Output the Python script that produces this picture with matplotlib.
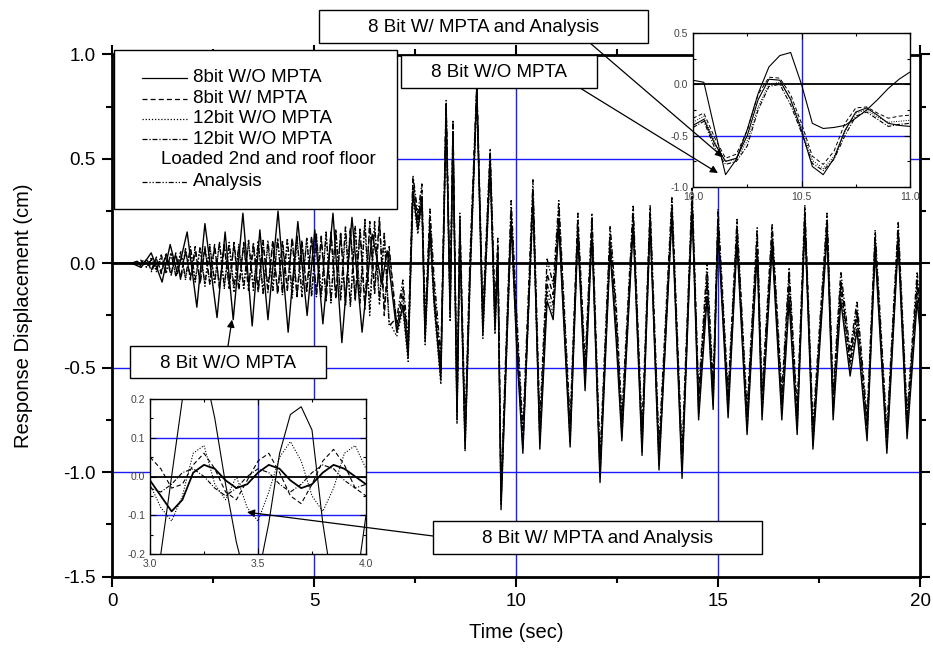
import matplotlib.pyplot as plt
from matplotlib.patches import Rectangle
from matplotlib.lines import Line2D
from matplotlib.ticker import MultipleLocator

plt.rcParams['font.family'] = ['Liberation Sans', 'DejaVu Sans']
plt.rcParams['axes.unicode_minus'] = False

# ---- main record: 8bit W/O MPTA (peaks / troughs)
t_8bit = [0.0, 0.5, 0.72, 0.97, 1.24, 1.44, 1.62, 1.86, 2.10, 2.30, 2.60, 2.80, 3.00, 3.24, 3.47, 3.66,
          3.86, 4.11, 4.36, 4.60, 4.83, 5.02, 5.22, 5.47, 5.69, 5.94, 6.19, 6.44, 6.68, 6.81,
          7.05, 7.20, 7.33, 7.45, 7.57, 7.67, 7.75, 7.87, 7.97, 8.14, 8.27, 8.37, 8.44, 8.54, 8.61,
          8.74, 8.86, 9.03, 9.18, 9.36, 9.48, 9.55, 9.63, 9.88, 10.02, 10.17, 10.42, 10.59, 10.77,
          10.92, 11.06, 11.34, 11.53, 11.71, 11.88, 12.08, 12.33, 12.48, 12.62, 12.90, 13.12, 13.32,
          13.54, 13.86, 14.11, 14.36, 14.52, 14.73, 14.88, 15.0, 15.25, 15.47, 15.72, 15.97, 16.09,
          16.34, 16.58, 16.76, 16.96, 17.15, 17.35, 17.70, 17.85, 18.04, 18.27, 18.44, 18.69, 18.89,
          19.18, 19.46, 19.68, 19.93, 20.0]
d_8bit = [0, 0, -0.02, 0.05, -0.09, 0.09, -0.05, 0.15, -0.21, 0.19, -0.26, 0.15, -0.27, 0.24, -0.30, 0.16,
          -0.27, 0.25, -0.33, 0.20, -0.25, 0.16, -0.29, 0.24, -0.38, 0.22, -0.33, 0.14, -0.10, 0.06,
          -0.33, -0.20, -0.45, 0.34, 0.16, 0.30, -0.37, 0.17, -0.18, -0.56,
          0.72, -0.26, 0.61, -0.75, 0.15, -0.89, -0.08, 0.82, -0.34, 0.48,
          -0.32, 0.02, -1.18, 0.20, -0.42, -0.91, 0.32, -0.89, -0.18, -0.27,
          0.18, -0.88, 0.14, -0.61, 0.14, -1.05, 0.06, -0.37, -0.85, 0.18,
          -0.92, 0.19, -0.99, 0.23, -1.03, 0.27, -0.75, -0.16, -0.70, 0.16,
          -0.74, 0.10, -0.82, 0.05, -0.75, 0.08, -0.75, -0.18, -0.82, 0.19,
          -0.89, 0.14, -0.75, -0.18, -0.54, -0.32, -0.85, 0.06, -0.91, 0.10,
          -0.84, -0.18, -0.32]

# ---- the other four records share one time list
t_grp = [0.0, 0.5, 0.62, 0.74, 0.86, 0.98, 1.10, 1.22, 1.34, 1.46, 1.58, 1.70, 1.82, 1.94, 2.06, 2.18,
         2.30, 2.42, 2.54, 2.66, 2.78, 2.90, 3.02, 3.14, 3.26, 3.38, 3.50, 3.62, 3.74, 3.86, 3.98,
         4.10, 4.22, 4.34, 4.46, 4.58, 4.70, 4.82, 4.94, 5.06, 5.18, 5.30, 5.42, 5.54, 5.66, 5.78,
         5.90, 6.02, 6.14, 6.26, 6.38, 6.50, 6.62, 6.74, 6.86,
         7.05, 7.20, 7.33, 7.45, 7.57, 7.67, 7.75, 7.87, 7.97, 8.14, 8.27, 8.37, 8.44, 8.54, 8.61,
         8.74, 8.86, 9.03, 9.18, 9.36, 9.48, 9.55, 9.63, 9.88, 10.02, 10.17, 10.42, 10.59, 10.77,
         10.92, 11.06, 11.34, 11.53, 11.71, 11.88, 12.08, 12.33, 12.48, 12.62, 12.90, 13.12, 13.32,
         13.54, 13.86, 14.11, 14.36, 14.52, 14.73, 14.88, 15.0, 15.25, 15.47, 15.72, 15.97, 16.09,
         16.34, 16.58, 16.76, 16.96, 17.15, 17.35, 17.70, 17.85, 18.04, 18.27, 18.44, 18.69, 18.89,
         19.18, 19.46, 19.68, 19.93, 20.0]
d_mpta = [0, 0, 0.01, -0.02, 0.02, -0.03, 0.03, -0.05, 0.04, -0.06,
          0.05, -0.08, 0.06, -0.07, 0.08, -0.10, 0.07, -0.09, 0.09, -0.12,
          0.08, -0.10, 0.09, -0.13, 0.10, -0.11, 0.08, -0.14, 0.10, -0.12,
          0.11, -0.15, 0.09, -0.12, 0.12, -0.16, 0.10, -0.13, 0.13, -0.15,
          0.12, -0.18, 0.15, -0.16, 0.14, -0.20, 0.17, -0.17, 0.15, -0.22,
          0.20, -0.12, 0.22, -0.25, 0.08,
          -0.30, -0.12, -0.40, 0.40, 0.20, 0.35, -0.32, 0.22, -0.12, -0.50,
          0.76, -0.20, 0.66, -0.70, 0.20, -0.84, -0.02, 0.85, -0.28, 0.52,
          -0.26, 0.08, -1.12, 0.26, -0.30, -0.85, 0.36, -0.82, -0.05, -0.15,
          0.26, -0.80, 0.20, -0.52, 0.20, -0.98, 0.14, -0.25, -0.78, 0.24,
          -0.85, 0.24, -0.92, 0.28, -0.96, 0.32, -0.66, -0.05, -0.62, 0.22,
          -0.66, 0.18, -0.74, 0.14, -0.66, 0.16, -0.66, -0.06, -0.74, 0.24,
          -0.82, 0.20, -0.66, -0.08, -0.45, -0.22, -0.78, 0.12, -0.84, 0.16,
          -0.76, -0.08, -0.25]
d_12a = [0, 0, -0.01, 0.02, -0.02, 0.03, -0.04, 0.03, -0.05, 0.05,
         -0.06, 0.06, -0.08, 0.07, -0.09, 0.08, -0.11, 0.09, -0.10, 0.10,
         -0.12, 0.09, -0.14, 0.08, -0.12, 0.10, -0.13, 0.11, -0.15, 0.09,
         -0.13, 0.12, -0.14, 0.10, -0.17, 0.11, -0.14, 0.12, -0.16, 0.13,
         -0.15, 0.14, -0.19, 0.16, -0.18, 0.15, -0.21, 0.18, -0.16, 0.19,
         -0.25, 0.18, -0.20, 0.12, -0.28,
         -0.35, -0.22, -0.47, 0.32, 0.14, 0.28, -0.39, 0.15, -0.20, -0.58,
         0.70, -0.28, 0.59, -0.77, 0.13, -0.90, -0.10, 0.80, -0.36, 0.46,
         -0.34, 0.00, -1.16, 0.18, -0.40, -0.89, 0.28, -0.86, -0.14, -0.24,
         0.20, -0.86, 0.16, -0.58, 0.15, -1.02, 0.08, -0.33, -0.83, 0.20,
         -0.90, 0.20, -0.97, 0.24, -1.00, 0.28, -0.72, -0.12, -0.68, 0.18,
         -0.71, 0.12, -0.80, 0.07, -0.72, 0.10, -0.72, -0.14, -0.80, 0.20,
         -0.87, 0.16, -0.72, -0.14, -0.51, -0.29, -0.83, 0.08, -0.89, 0.12,
         -0.81, -0.14, -0.29]
d_12b = [0, 0, 0.01, -0.01, 0.02, -0.04, 0.02, -0.04, 0.05, -0.05,
         0.04, -0.07, 0.07, -0.08, 0.06, -0.09, 0.08, -0.10, 0.08, -0.11,
         0.09, -0.12, 0.10, -0.11, 0.09, -0.13, 0.10, -0.12, 0.11, -0.14,
         0.10, -0.14, 0.11, -0.13, 0.12, -0.15, 0.11, -0.14, 0.12, -0.16,
         0.13, -0.17, 0.14, -0.17, 0.15, -0.19, 0.16, -0.18, 0.17, -0.20,
         0.18, -0.15, 0.20, -0.22, 0.05,
         -0.31, -0.16, -0.42, 0.36, 0.18, 0.32, -0.34, 0.19, -0.15, -0.52,
         0.74, -0.22, 0.63, -0.71, 0.17, -0.85, -0.05, 0.83, -0.30, 0.50,
         -0.28, 0.05, -1.14, 0.23, -0.35, -0.87, 0.30, -0.84, -0.10, -0.20,
         0.22, -0.83, 0.17, -0.55, 0.17, -1.00, 0.10, -0.30, -0.80, 0.21,
         -0.87, 0.22, -0.94, 0.26, -0.98, 0.30, -0.69, -0.09, -0.65, 0.19,
         -0.68, 0.14, -0.77, 0.10, -0.69, 0.12, -0.69, -0.10, -0.77, 0.22,
         -0.84, 0.18, -0.69, -0.11, -0.48, -0.25, -0.80, 0.10, -0.86, 0.14,
         -0.78, -0.11, -0.27]
d_anal = [0, 0, 0.0, 0.01, -0.02, 0.02, -0.03, 0.04, -0.04, 0.05,
          -0.06, 0.05, -0.07, 0.08, -0.08, 0.07, -0.10, 0.08, -0.09, 0.10,
          -0.11, 0.10, -0.12, 0.09, -0.12, 0.11, -0.12, 0.10, -0.14, 0.11,
          -0.13, 0.12, -0.15, 0.12, -0.14, 0.13, -0.16, 0.12, -0.15, 0.14,
          -0.16, 0.15, -0.18, 0.16, -0.17, 0.18, -0.20, 0.17, -0.19, 0.21,
          -0.22, 0.20, -0.18, 0.15, -0.30,
          -0.26, -0.08, -0.36, 0.42, 0.24, 0.38, -0.27, 0.26, -0.06, -0.45,
          0.78, -0.15, 0.68, -0.65, 0.24, -0.78, 0.03, 0.86, -0.23, 0.55,
          -0.21, 0.12, -1.08, 0.30, -0.25, -0.80, 0.40, -0.76, 0.02, -0.10,
          0.30, -0.76, 0.24, -0.48, 0.24, -0.93, 0.18, -0.20, -0.73, 0.28,
          -0.80, 0.28, -0.87, 0.32, -0.91, 0.36, -0.62, 0.00, -0.58, 0.26,
          -0.62, 0.21, -0.70, 0.17, -0.62, 0.19, -0.62, -0.02, -0.70, 0.28,
          -0.78, 0.24, -0.62, -0.04, -0.42, -0.18, -0.74, 0.16, -0.80, 0.20,
          -0.72, -0.04, -0.21]

# ---- upper inset, 10 - 11 s
t_in1 = [10.0, 10.05, 10.1, 10.15, 10.2, 10.25, 10.3, 10.35, 10.4, 10.45, 10.5,
         10.55, 10.6, 10.65, 10.7, 10.75, 10.8, 10.85, 10.9, 10.95, 11.0]
in1_b = [0.04, 0.02, -0.44, -0.88, -0.73, -0.44, -0.09, 0.17, 0.28, 0.31, 0.0,
         -0.38, -0.43, -0.42, -0.40, -0.33, -0.25, -0.15, -0.04, 0.05, 0.12]
in1_a = [-0.40, -0.34, -0.58, -0.75, -0.72, -0.50, -0.15, 0.05, 0.04, -0.15, -0.45,
         -0.80, -0.88, -0.72, -0.45, -0.27, -0.23, -0.30, -0.38, -0.40, -0.41]
in1_g1 = [-0.33, -0.28, -0.52, -0.72, -0.68, -0.45, -0.10, 0.07, 0.06, -0.10, -0.38,
          -0.70, -0.78, -0.65, -0.38, -0.23, -0.22, -0.28, -0.33, -0.31, -0.30]
in1_g2 = [-0.37, -0.31, -0.56, -0.75, -0.73, -0.55, -0.22, 0.0, 0.02, -0.14, -0.42,
          -0.74, -0.82, -0.70, -0.46, -0.28, -0.25, -0.32, -0.37, -0.36, -0.35]
in1_g3 = [-0.42, -0.36, -0.62, -0.78, -0.75, -0.60, -0.25, -0.02, 0.0, -0.20, -0.47,
          -0.77, -0.84, -0.73, -0.50, -0.31, -0.27, -0.34, -0.41, -0.39, -0.38]

# ---- lower inset, 3 - 4 s
t_in2 = [3.0, 3.05, 3.1, 3.15, 3.2, 3.25, 3.3, 3.35, 3.4, 3.45, 3.5,
         3.55, 3.6, 3.65, 3.7, 3.75, 3.8, 3.85, 3.9, 3.95, 4.0]
in2_s = [-0.30, -0.20, 0.0, 0.20, 0.30, 0.28, 0.15, -0.02, -0.17, -0.28, -0.26,
         -0.12, 0.06, 0.16, 0.18, 0.12, -0.12, -0.30, -0.38, -0.30, -0.10]
in2_o1 = [-0.02, -0.08, -0.115, -0.05, 0.06, 0.08, -0.02, -0.06, 0.0, -0.08, -0.115,
          -0.04, 0.05, 0.09, 0.04, -0.05, -0.09, -0.03, 0.06, 0.08, 0.02]
in2_o2 = [-0.01, -0.05, -0.09, -0.06, 0.01, 0.03, 0.02, -0.01, -0.03, -0.02, 0.01,
          0.03, 0.02, -0.01, -0.03, -0.02, 0.01, 0.03, 0.02, 0.0, -0.02]
in2_o3 = [0.05, 0.02, -0.03, -0.02, 0.03, 0.06, 0.02, -0.04, -0.06, -0.01, 0.04,
          0.06, 0.01, -0.05, -0.07, -0.02, 0.04, 0.07, 0.03, -0.03, -0.05]
in2_o4 = [-0.03, -0.04, -0.02, 0.01, 0.02, 0.0, -0.03, -0.05, -0.03, 0.0, 0.02,
          0.01, -0.02, -0.04, -0.02, 0.01, 0.03, 0.02, -0.01, -0.03, -0.02]

legend_labels = ['8bit W/O MPTA', '8bit W/ MPTA', '12bit W/O MPTA', '12bit W/O MPTA',
                 'Loaded 2nd and roof floor', 'Analysis']

W, H = 933, 652
BLUE = '#1a1aff'
FS = 13.5
ls_solid = '-'
ls_dash = (0, (4, 2.5))
ls_dot = (0, (1, 1.5))
ls_dashdot = (0, (4, 1.5, 1, 1.5))
ls_dashdotdot = (0, (4, 1.5, 1, 1.5, 1, 1.5))


def fx(px):
    return px / W


def fy(py):
    return 1 - py / H


fig = plt.figure(figsize=(W / 100, H / 100), dpi=100)

# ---------------- main axes
ax = fig.add_axes([fx(112), fy(576.5), fx(920) - fx(112), fy(54.5) - fy(576.5)])
for x in (5, 10, 15):
    ax.axvline(x, color=BLUE, lw=1, zorder=1)
for y in (0.5, -0.5, -1.0):
    ax.axhline(y, color=BLUE, lw=1, zorder=1)
ax.plot(t_8bit, d_8bit, color='black', lw=1.0, ls=ls_solid, zorder=2)
ax.plot(t_grp, d_mpta, color='black', lw=1.0, ls=ls_dash, zorder=2)
ax.plot(t_grp, d_12a, color='black', lw=1.0, ls=ls_dot, zorder=2)
ax.plot(t_grp, d_12b, color='black', lw=1.0, ls=ls_dashdot, zorder=2)
ax.plot(t_grp, d_anal, color='black', lw=1.0, ls=ls_dashdotdot, zorder=2)
ax.axhline(0, color='black', lw=2, zorder=3)

ax.set_xlim(0, 20)
ax.set_ylim(-1.5, 1.0)
ax.set_xticks([0, 5, 10, 15, 20])
ax.set_yticks([1.0, 0.5, 0.0, -0.5, -1.0, -1.5])
ax.set_yticklabels(['1.0', '0.5', '0.0', '-0.5', '-1.0', '-1.5'])
ax.xaxis.set_minor_locator(MultipleLocator(2.5))
ax.yaxis.set_minor_locator(MultipleLocator(0.25))
ax.tick_params(which='both', direction='out', top=True, right=True, labelsize=13.5, width=1.5)
ax.tick_params(which='major', length=7, pad=5)
ax.tick_params(which='minor', length=4)
for s in ax.spines.values():
    s.set_linewidth(2)
ax.set_xlabel('Time (sec)', fontsize=14.5)
ax.set_ylabel('Response Displacement (cm)', fontsize=14.5)
ax.xaxis.set_label_coords(0.5, -0.09)
ax.yaxis.set_label_coords(-0.098, 0.5)


def style_inset(a):
    a.tick_params(which='both', direction='in', top=True, right=True,
                  labelsize=7.5, labelcolor='#444444', width=0.8)
    a.tick_params(which='major', length=4)
    a.tick_params(which='minor', length=2.5)
    for s in a.spines.values():
        s.set_linewidth(1)


# ---------------- upper inset
ax1 = fig.add_axes([fx(693), fy(187), fx(910) - fx(693), fy(33) - fy(187)], zorder=5)
ax1.axvline(10.5, color=BLUE, lw=1, zorder=1)
ax1.axhline(-0.5, color=BLUE, lw=1, zorder=1)
ax1.axhline(0, color='black', lw=1.3, zorder=1)
ax1.plot(t_in1, in1_b, color='black', lw=0.8, ls=ls_solid)
ax1.plot(t_in1, in1_a, color='black', lw=0.8, ls=ls_solid)
ax1.plot(t_in1, in1_g1, color='black', lw=0.7, ls=ls_dash)
ax1.plot(t_in1, in1_g2, color='black', lw=0.7, ls=ls_dot)
ax1.plot(t_in1, in1_g3, color='black', lw=0.8, ls=ls_dashdot)
ax1.set_xlim(10, 11)
ax1.set_ylim(-1.0, 0.5)
ax1.set_xticks([10.0, 10.5, 11.0])
ax1.set_yticks([0.5, 0.0, -0.5, -1.0])
ax1.set_xticklabels(['10.0', '10.5', '11.0'])
ax1.set_yticklabels(['0.5', '0.0', '-0.5', '-1.0'])
ax1.xaxis.set_minor_locator(MultipleLocator(0.25))
ax1.yaxis.set_minor_locator(MultipleLocator(0.25))
style_inset(ax1)

# ---------------- lower inset
ax2 = fig.add_axes([fx(150), fy(554), fx(366) - fx(150), fy(399) - fy(554)], zorder=5)
ax2.axvline(3.5, color=BLUE, lw=1, zorder=1)
for y in (0.1, -0.1):
    ax2.axhline(y, color=BLUE, lw=1, zorder=1)
ax2.axhline(0, color='black', lw=1.3, zorder=1)
ax2.plot(t_in2, in2_s, color='black', lw=0.8, ls=ls_solid)
ax2.plot(t_in2, in2_o1, color='black', lw=0.8, ls=ls_dot)
ax2.plot(t_in2, in2_o2, color='black', lw=1.3, ls=ls_solid)
ax2.plot(t_in2, in2_o3, color='black', lw=0.8, ls=ls_dash)
ax2.plot(t_in2, in2_o4, color='black', lw=0.8, ls=ls_dashdot)
ax2.set_xlim(3, 4)
ax2.set_ylim(-0.2, 0.2)
ax2.set_xticks([3.0, 3.5, 4.0])
ax2.set_yticks([0.2, 0.1, 0.0, -0.1, -0.2])
ax2.set_xticklabels(['3.0', '3.5', '4.0'])
ax2.set_yticklabels(['0.2', '0.1', '0.0', '-0.1', '-0.2'])
ax2.xaxis.set_minor_locator(MultipleLocator(0.25))
ax2.yaxis.set_minor_locator(MultipleLocator(0.05))
style_inset(ax2)


# ---------------- boxes, legend and arrows (figure pixel layout)
def box(x0, y0, x1, y1, z=6):
    fig.add_artist(Rectangle((fx(x0), fy(y1)), fx(x1) - fx(x0), fy(y0) - fy(y1),
                             transform=fig.transFigure, facecolor='white',
                             edgecolor='black', lw=1, zorder=z))


# legend
box(114, 50, 397, 209)
rows = [78, 98.5, 118.5, 139, 160, 181.5]
styles = [ls_solid, ls_dash, ls_dot, ls_dashdot, None, ls_dashdotdot]
for yy, st, lab in zip(rows, styles, legend_labels):
    if st is None:
        fig.text(fx(161), fy(yy), lab, fontsize=FS, va='center', ha='left', zorder=7)
        continue
    fig.add_artist(Line2D([fx(142), fx(187)], [fy(yy), fy(yy)], transform=fig.transFigure,
                          color='black', lw=0.9, ls=st, zorder=7))
    fig.text(fx(193), fy(yy), lab, fontsize=FS, va='center', ha='left', zorder=7)

# annotation boxes
notes = [(319, 10, 648, 43, '8 Bit W/ MPTA and Analysis'),
         (401, 55, 597, 88, '8 Bit W/O MPTA'),
         (130, 346, 326, 378, '8 Bit W/O MPTA'),
         (433, 521, 762, 554, '8 Bit W/ MPTA and Analysis')]
for x0, y0, x1, y1, txt in notes:
    box(x0, y0, x1, y1)
    fig.text(fx((x0 + x1) / 2), fy((y0 + y1) / 2 + 1), txt, fontsize=FS,
             ha='center', va='center', zorder=7)

arrow = dict(arrowstyle='-|>', color='black', lw=0.9, shrinkA=0, shrinkB=0, mutation_scale=11)
ax1.annotate('', xy=(10.138, -0.709), xycoords='data', xytext=(590, H - 43),
             textcoords='figure pixels', arrowprops=arrow, annotation_clip=False)
ax1.annotate('', xy=(10.115, -0.864), xycoords='data', xytext=(580, H - 88),
             textcoords='figure pixels', arrowprops=arrow, annotation_clip=False)
ax.annotate('', xy=(2.97, -0.27), xycoords='data', xytext=(228, H - 346),
            textcoords='figure pixels', arrowprops=arrow, annotation_clip=False)
ax2.annotate('', xy=(3.449, -0.092), xycoords='data', xytext=(433, H - 536),
             textcoords='figure pixels', arrowprops=arrow, annotation_clip=False)

fig.savefig('out.png', dpi=100)
